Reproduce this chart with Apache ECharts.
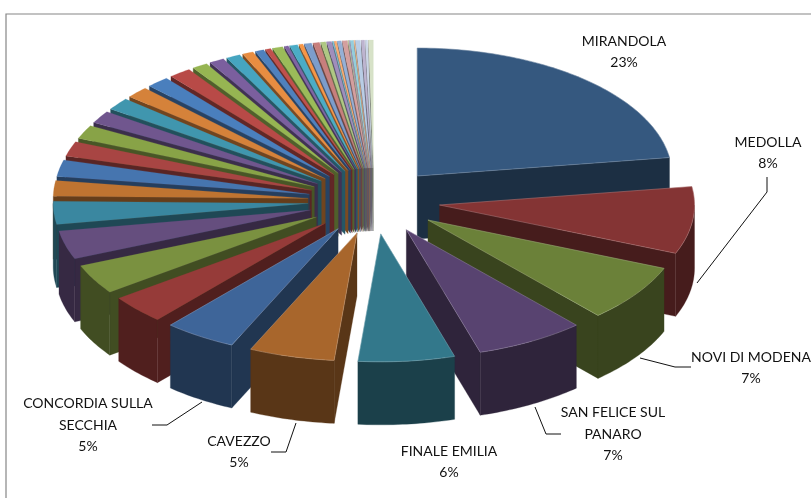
<!DOCTYPE html>
<html><head><meta charset="utf-8">
<style>html,body{margin:0;padding:0;background:#fff}#c{width:811px;height:498px}</style>
<script src="https://cdn.jsdelivr.net/npm/echarts@6/dist/echarts.min.js"></script>
</head><body><div id="c"></div>
<script>
const names = ['MIRANDOLA','MEDOLLA','NOVI DI MODENA','SAN FELICE SUL\nPANARO','FINALE EMILIA','CAVEZZO','CONCORDIA SULLA\nSECCHIA'];
const shares = [22.7,8.47,7.22,6.94,6.11,5.42,4.58,
  3.6,3.75,3.6,2.9,1.95,2.1,1.86,1.75,1.58,1.56,1.44,1.44,1.42,
  1,0.95,0.9,0.7,0.55,0.35,0.65,0.25,0.5,0.25,0.45,
  0.4,0.3,0.3,0.08,0.15,0.25,0.3,0.05,0.05,0.2,0.05,0.3,0.2,0.15,0.3];
const topColors = ['#35587f','#843434','#6b8139','#584370','#33788b','#a8662c',
  '#3e6599','#963b39','#7a9140','#654e7e','#3a87a0','#bf7431',
  '#4675af','#a84543','#88a347','#70568e','#4096ae','#d5823a',
  '#4a7fbd','#b84a47','#96b552','#7b5f9e','#46a5c0','#e88d41',
  '#4f81bd','#c0504d','#9bbb59','#8064a2','#4bacc6','#f79646',
  '#7c9dcb','#c77f7d','#afc883','#a08ebc','#7abed4','#f9ac71',
  '#95b0d6','#d49f9e','#c3d69b','#b3a2c7','#93cddd','#fac090',
  '#b9cde5','#bdb4d0','#cbd6e8','#d7e2c8'];
const labelSpots = [
  {x:624,y:52},{x:768,y:153},{x:751,y:368},{x:613,y:434},{x:449,y:462},{x:239,y:452},{x:88,y:425}];
const leaders = [
  [[767,177],[767,192],[697,283]],
  [[640,358],[675,367],[691,367]],
  [[535,407],[546,434],[561,434]],
  [[296,423],[286,452],[271,452]],
  [[202,402],[167,425],[152,425]]];

const total = shares.reduce((a,b)=>a+b,0);
const cum = []; shares.reduce((a,b,i)=>{cum[i]=a;return a+b;},0);
const CX=374, CY=201, RX=255, RY=128, DEPTH=63, EX=66, EY=33;
const rad = d=>d*Math.PI/180;
function shade(hex,k){const n=parseInt(hex.slice(1),16);
  return 'rgb('+[(n>>16)&255,(n>>8)&255,n&255].map(c=>Math.round(c*k)).join(',')+')';}
function tint(hex,k){const n=parseInt(hex.slice(1),16);
  return 'rgb('+[(n>>16)&255,(n>>8)&255,n&255].map(c=>Math.round(c+(255-c)*k)).join(',')+')';}

function renderItem(params, api){
  const i = params.dataIndex, v = api.value(0);
  const a0 = cum[i]/total*360, a1 = (cum[i]+v)/total*360, mid=(a0+a1)/2;
  const ax = CX+EX*Math.sin(rad(mid)), ay = CY-EY*Math.cos(rad(mid));
  const pt = d=>[ax+RX*Math.sin(rad(d)), ay-RY*Math.cos(rad(d))];
  const arc = (s,e)=>{const o=[];const n=Math.max(1,Math.ceil(e-s));
    for(let k=0;k<=n;k++)o.push(pt(s+(e-s)*k/n));return o;};
  const col=topColors[i], side=shade(col,0.53), base=(1000-Math.round(Math.cos(rad(mid))*1000))*4;
  const edge=tint(col,0.3);
  const kids=[];
  const poly=(points,fill,stroke,lw,z)=>kids.push({type:'polygon',z2:base+z,
    shape:{points},style:{fill,stroke,lineWidth:lw}});
  const down=p=>[p[0],p[1]+DEPTH];
  if(Math.sin(rad(a0))<0){const p=pt(a0);poly([[ax,ay],p,down(p),[ax,ay+DEPTH]],side,side,0.3,0);}
  if(Math.sin(rad(a1))>0){const p=pt(a1);poly([[ax,ay],p,down(p),[ax,ay+DEPTH]],side,side,0.3,0);}
  const s=Math.max(a0,90), e=Math.min(a1,270);
  if(e>s){const t=arc(s,e);poly(t.concat(t.slice().reverse().map(down)),side,side,0.3,1);}
  poly([[ax,ay]].concat(arc(a0,a1)),col,i<7?edge:col,i<7?0.6:0.2,2);
  return {type:'group',children:kids};
}

const textEls = names.map((n,i)=>({type:'text',x:labelSpots[i].x,y:labelSpots[i].y,z:10,
  style:{text:n+'\n'+Math.round(shares[i]/total*100)+'%',align:'center',verticalAlign:'middle',
    font:'14px Lato',lineHeight:21.5,fill:'#111'}}));
const lineEls = leaders.map(points=>({type:'polyline',z:10,shape:{points},
  style:{stroke:'#111',lineWidth:1,fill:null}}));

const chart = echarts.init(document.getElementById('c'),null,{renderer:'canvas'});
chart.setOption({
  animation:false,
  backgroundColor:'#fff',
  graphic:[{type:'rect',z:0,shape:{x:6,y:14,width:900,height:600},style:{fill:'#fff',stroke:'#868686',lineWidth:1.2}}]
    .concat(lineEls,textEls),
  series:[{type:'custom',coordinateSystem:'none',renderItem,data:shares.map(v=>[v]),z:2,silent:true}]
});
</script></body></html>
